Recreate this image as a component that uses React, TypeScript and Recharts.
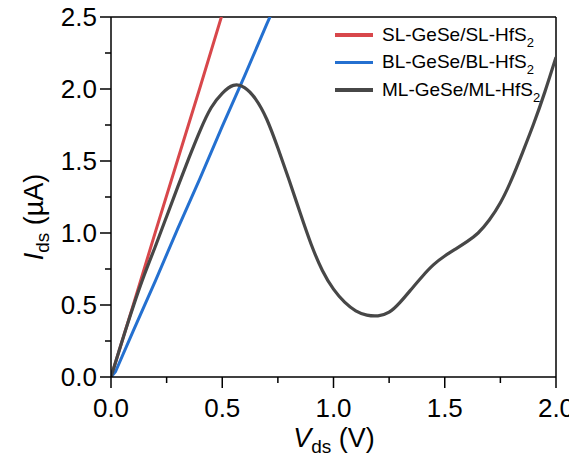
import React from "react";
import { LineChart, Line, XAxis, YAxis, ReferenceLine, Legend } from "recharts";

// ---- data ----
const vSL = [0, 0.1, 0.2, 0.3, 0.4, 0.5];
const iSL = [0, 0.5, 1.01, 1.51, 2.01, 2.52];

const vBL = [0, 0.02, 0.1, 0.2, 0.3, 0.4, 0.5, 0.6, 0.7, 0.72];
const iBL = [0, 0.036, 0.32, 0.67, 1.03, 1.38, 1.74, 2.09, 2.45, 2.52];

const vML = [0, 0.05, 0.1, 0.15, 0.2, 0.25, 0.3, 0.35, 0.4, 0.45, 0.5, 0.55, 0.6, 0.65, 0.7, 0.75, 0.8, 0.85, 0.9, 0.95, 1.0, 1.05, 1.1, 1.15, 1.2, 1.25, 1.3, 1.35, 1.4, 1.45, 1.5, 1.55, 1.6, 1.65, 1.7, 1.75, 1.8, 1.85, 1.9, 1.95, 2.0];
const iML = [0, 0.25, 0.49, 0.71, 0.91, 1.115, 1.32, 1.52, 1.71, 1.87, 1.97, 2.025, 2.01, 1.93, 1.79, 1.59, 1.37, 1.14, 0.92, 0.74, 0.61, 0.52, 0.46, 0.43, 0.425, 0.45, 0.52, 0.61, 0.7, 0.78, 0.84, 0.89, 0.94, 1.0, 1.09, 1.21, 1.37, 1.56, 1.76, 1.98, 2.22];

const seriesNames = ["SL-GeSe/SL-HfS", "BL-GeSe/BL-HfS", "ML-GeSe/ML-HfS"];
const seriesColors = ["#D8474B", "#2470D0", "#474747"];

const xTicks = [0, 0.25, 0.5, 0.75, 1.0, 1.25, 1.5, 1.75, 2.0];
const yTicks = [0, 0.25, 0.5, 0.75, 1.0, 1.25, 1.5, 1.75, 2.0, 2.25, 2.5];

const toRows = (xs: number[], ys: number[]) => xs.map((v, k) => ({ v, i: ys[k] }));
const dataSL = toRows(vSL, iSL);
const dataBL = toRows(vBL, iBL);
const dataML = toRows(vML, iML);

const FONT = "'Liberation Sans', Arial, sans-serif";

const isMajor = (v: number) => Math.abs(v * 2 - Math.round(v * 2)) < 1e-6;

const XTick = (props: any) => {
  const { x, y, payload } = props;
  const v = payload.value as number;
  const major = isMajor(v);
  return (
    <g>
      <line x1={x} x2={x} y1={y} y2={y + (major ? 11 : 6)} stroke="#000" strokeWidth={1.5} />
      {major && (
        <text x={x} y={y + 40} textAnchor="middle" fontSize={26} fontFamily={FONT} fill="#000">
          {v.toFixed(1)}
        </text>
      )}
    </g>
  );
};

const YTick = (props: any) => {
  const { x, y, payload } = props;
  const v = payload.value as number;
  const major = isMajor(v);
  return (
    <g>
      <line x1={x - (major ? 11 : 6)} x2={x} y1={y} y2={y} stroke="#000" strokeWidth={1.5} />
      {major && (
        <text x={x - 14} y={y + 9} textAnchor="end" fontSize={26} fontFamily={FONT} fill="#000">
          {v.toFixed(1)}
        </text>
      )}
    </g>
  );
};

const XTitle = () => (
  <text x={334} y={447} textAnchor="middle" fontSize={27} fontFamily={FONT} fill="#000">
    <tspan fontStyle="italic">V</tspan>
    <tspan fontSize={19} dy={6}>ds</tspan>
    <tspan dy={-6}> (V)</tspan>
  </text>
);

const YTitle = () => (
  <text transform="translate(43,217) rotate(-90)" textAnchor="middle" fontSize={27} fontFamily={FONT} fill="#000">
    <tspan fontStyle="italic">I</tspan>
    <tspan fontSize={19} dy={6}>ds</tspan>
    <tspan dy={-6}> (µA)</tspan>
  </text>
);

const LegendContent = () => (
  <div style={{ fontFamily: FONT, fontSize: 19, color: "#000" }}>
    {seriesNames.map((n, k) => (
      <div key={n} style={{ height: 27.5, display: "flex", alignItems: "center" }}>
        <div style={{ width: 38, height: 3.5, background: seriesColors[k], marginRight: 9 }} />
        <span style={{ whiteSpace: "nowrap" }}>
          {n}
          <span style={{ fontSize: 13, position: "relative", top: 6 }}>2</span>
        </span>
      </div>
    ))}
  </div>
);

export default function App() {
  return (
    <div style={{ margin: -8, width: 577, height: 466 }}>
      <LineChart width={577} height={466} margin={{ top: 17, right: 21, bottom: 29, left: 41 }}>
        <XAxis
          dataKey="v"
          type="number"
          domain={[0, 2]}
          ticks={xTicks}
          interval={0}
          tick={<XTick />}
          tickLine={false}
          tickSize={0}
          tickMargin={0}
          height={60}
          axisLine={{ stroke: "#000", strokeWidth: 1.5 }}
          allowDataOverflow
          label={{ content: XTitle } as any}
        />
        <YAxis
          type="number"
          domain={[0, 2.5]}
          ticks={yTicks}
          interval={0}
          tick={<YTick />}
          tickLine={false}
          tickSize={0}
          tickMargin={0}
          width={70}
          axisLine={{ stroke: "#000", strokeWidth: 1.5 }}
          allowDataOverflow
          label={{ content: YTitle } as any}
        />
        <ReferenceLine y={2.5} stroke="#000" strokeWidth={1.5} />
        <ReferenceLine x={2} stroke="#000" strokeWidth={1.5} />
        <Line data={dataSL} dataKey="i" type="linear" stroke={seriesColors[0]} strokeWidth={3} dot={false} isAnimationActive={false} />
        <Line data={dataBL} dataKey="i" type="linear" stroke={seriesColors[1]} strokeWidth={3} dot={false} isAnimationActive={false} />
        <Line data={dataML} dataKey="i" type="natural" stroke={seriesColors[2]} strokeWidth={3.2} dot={false} isAnimationActive={false} />
        <Legend
          layout="vertical"
          align="center"
          verticalAlign="middle"
          content={<LegendContent />}
          wrapperStyle={{ position: "absolute", left: 335, top: 21, width: 235, height: 85 }}
        />
      </LineChart>
    </div>
  );
}
